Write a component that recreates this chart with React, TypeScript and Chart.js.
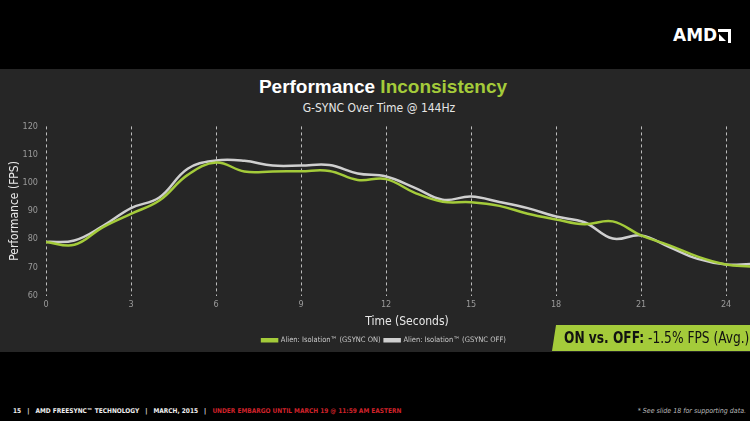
import React, { useEffect, useRef } from "react";
import { Chart, registerables } from "chart.js";

Chart.register(...registerables);

// ---- data ----
const timeSeconds = [0, 1, 2, 3, 4, 5, 6, 7, 8, 9, 10, 11, 12, 13, 14, 15, 16, 17, 18, 19, 20, 21, 22, 23, 24, 24.85];
const gsyncOnFps = [79, 78, 84.2, 89, 93.7, 102.8, 107.2, 104, 104, 104.1, 104.2, 101, 101.3, 96.5, 93.3, 93.1, 91.8, 89, 87, 85.3, 86.3, 81.3, 77.8, 73.8, 71, 70.3];
const gsyncOffFps = [79, 79.5, 84.6, 91, 94.8, 105, 107.9, 107.8, 106.1, 106.1, 106.3, 103.3, 102.2, 98.3, 94, 95.1, 93.2, 91, 88, 86, 80.2, 81.3, 77.2, 73, 71, 71.2];
const xTickValues = [0, 3, 6, 9, 12, 15, 18, 21, 24];
const yTickValues = [60, 70, 80, 90, 100, 110, 120];
const seriesLabels = ["Alien: Isolation\u2122 (GSYNC ON)", "Alien: Isolation\u2122 (GSYNC OFF)"];

const GREEN = "#a4cb3a";
const GRAY = "#cfcfcf";
const NARROW = "'Liberation Sans Narrow', 'DejaVu Sans Condensed', 'Liberation Sans', sans-serif";
const SANS = "'Liberation Sans', Arial, sans-serif";

export default function App() {
  const canvasRef = useRef<HTMLCanvasElement | null>(null);

  useEffect(() => {
    document.body.style.margin = "0";
    const canvas = canvasRef.current;
    if (!canvas) return;
    const chart = new Chart(canvas, {
      type: "line",
      data: {
        datasets: [
          {
            label: seriesLabels[0],
            data: timeSeconds.map((t, i) => ({ x: t, y: gsyncOnFps[i] })),
            borderColor: GREEN,
            backgroundColor: GREEN,
            borderWidth: 2.5,
            pointRadius: 0,
            tension: 0.4,
            fill: false,
          },
          {
            label: seriesLabels[1],
            data: timeSeconds.map((t, i) => ({ x: t, y: gsyncOffFps[i] })),
            borderColor: GRAY,
            backgroundColor: GRAY,
            borderWidth: 2.5,
            pointRadius: 0,
            tension: 0.4,
            fill: false,
          },
        ],
      },
      options: {
        animation: false,
        responsive: false,
        maintainAspectRatio: false,
        layout: { padding: { top: 4, left: 0, right: 0, bottom: 0 } },
        scales: {
          x: {
            type: "linear",
            min: 0,
            max: 25.48,
            afterBuildTicks: (s: any) => {
              s.ticks = xTickValues.map((value) => ({ value }));
            },
            afterFit: (s: any) => {
              s.height = 37;
            },
            grid: { color: "rgba(215,215,215,0.85)", lineWidth: 1, drawTicks: false },
            border: { display: false, dash: [3, 3] },
            ticks: { color: "#9a9a9a", font: { family: NARROW, size: 9 }, padding: 4, maxRotation: 0 },
            title: {
              display: true,
              text: "Time (Seconds)",
              color: "#e8e8e8",
              font: { family: NARROW, size: 12 },
              padding: { top: 0, bottom: 3 },
            },
          },
          y: {
            min: 60,
            max: 120,
            afterBuildTicks: (s: any) => {
              s.ticks = yTickValues.map((value) => ({ value }));
            },
            afterFit: (s: any) => {
              s.width = 46;
            },
            grid: { display: false, drawTicks: false },
            border: { display: false },
            ticks: { color: "#9a9a9a", font: { family: NARROW, size: 9 }, padding: 8 },
            title: {
              display: true,
              text: "Performance (FPS)",
              color: "#e8e8e8",
              font: { family: NARROW, size: 12 },
              padding: { top: 8, bottom: 0 },
            },
          },
        },
        plugins: {
          legend: {
            position: "bottom",
            labels: {
              color: "#c8c8c8",
              font: { family: NARROW, size: 7.5 },
              boxWidth: 15,
              boxHeight: 2,
              padding: 4,
            },
          },
          tooltip: { enabled: false },
        },
      },
    });
    return () => chart.destroy();
  }, []);

  return (
    <div
      style={{
        position: "fixed",
        left: 0,
        top: 0,
        width: 750,
        height: 421,
        background: "#000",
        overflow: "hidden",
        fontFamily: SANS,
      }}
    >
      {/* AMD logo */}
      <div
        style={{
          position: "absolute",
          left: 673,
          top: 25,
          color: "#fff",
          fontFamily: "'DejaVu Sans', sans-serif",
          fontWeight: 700,
          fontSize: 17,
          lineHeight: "20px",
        }}
      >
        AMD
      </div>
      <div style={{ position: "absolute", left: 718, top: 29, width: 13, height: 14 }}>
        <div style={{ position: "absolute", left: 0, top: 0, width: 13, height: 3, background: "#fff" }} />
        <div style={{ position: "absolute", right: 0, top: 0, width: 3, height: 14, background: "#fff" }} />
        <div
          style={{
            position: "absolute",
            left: 1,
            top: 5,
            width: 0,
            height: 0,
            borderLeft: "7px solid #fff",
            borderTop: "7px solid transparent",
          }}
        />
      </div>

      {/* gray panel */}
      <div style={{ position: "absolute", left: 0, top: 69, width: 750, height: 283, background: "#262626" }} />

      {/* titles */}
      <div
        style={{
          position: "absolute",
          left: 0,
          width: 766,
          top: 75,
          textAlign: "center",
          fontFamily: SANS,
          fontWeight: 700,
          fontSize: 19,
          lineHeight: "24px",
          color: "#fff",
        }}
      >
        Performance <span style={{ color: GREEN }}>Inconsistency</span>
      </div>
      <div
        style={{
          position: "absolute",
          left: 0,
          width: 758,
          top: 100,
          textAlign: "center",
          fontFamily: NARROW,
          fontSize: 12,
          lineHeight: "17px",
          color: "#e6e6e6",
        }}
      >
        G-SYNC Over Time @ 144Hz
      </div>

      <canvas
        ref={canvasRef}
        width={768}
        height={241}
        style={{ position: "absolute", left: 0, top: 113, width: 768, height: 241 }}
      />

      {/* callout */}
      <div
        style={{
          position: "absolute",
          left: 552,
          top: 325,
          width: 198,
          height: 26,
          background: GREEN,
          clipPath: "polygon(4px 0, 100% 0, 100% 100%, 0 100%)",
        }}
      />
      <div
        style={{
          position: "absolute",
          left: 564,
          top: 328,
          fontFamily: NARROW,
          fontSize: 15,
          lineHeight: "20px",
          color: "#111",
          whiteSpace: "nowrap",
          transform: "scaleX(0.905)",
          transformOrigin: "0 0",
        }}
      >
        <span style={{ fontWeight: 700 }}>ON vs. OFF:</span> -1.5% FPS (Avg.)
      </div>

      {/* footer */}
      <div
        style={{
          position: "absolute",
          left: 13,
          top: 406,
          fontFamily: NARROW,
          fontWeight: 700,
          fontSize: 6.5,
          lineHeight: "10px",
          color: "#eee",
          whiteSpace: "pre",
        }}
      >
        {"15   |   AMD FREESYNC\u2122 TECHNOLOGY   |   MARCH, 2015   |   "}
        <span style={{ color: "#d0222a" }}>UNDER EMBARGO UNTIL MARCH 19 @ 11:59 AM EASTERN</span>
      </div>
      <div
        style={{
          position: "absolute",
          right: 4,
          top: 406,
          fontFamily: NARROW,
          fontStyle: "italic",
          fontSize: 7,
          lineHeight: "10px",
          color: "#bbb",
          whiteSpace: "nowrap",
        }}
      >
        * See slide 18 for supporting data.
      </div>
    </div>
  );
}
